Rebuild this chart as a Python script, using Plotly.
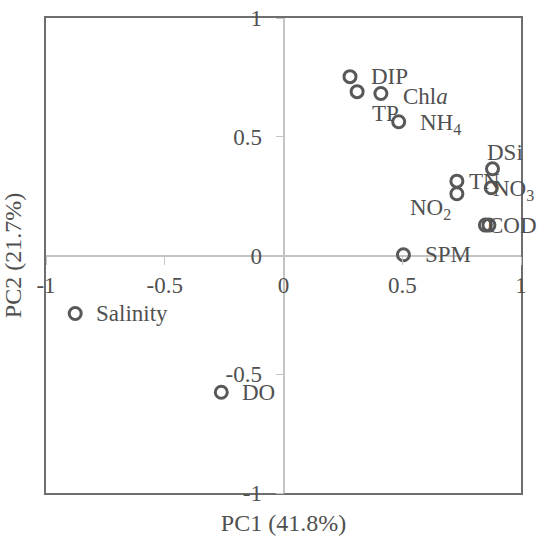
import plotly.graph_objects as go

# PCA loadings (PC1, PC2)
variables = ['DIP', 'TP', 'Chl<i>a</i>', 'NH<sub>4</sub>', 'DSi', 'TN', 'NO<sub>2</sub>',
             'NO<sub>3</sub>', '', 'COD', 'SPM', 'Salinity', 'DO']
pc1 = [0.28, 0.31, 0.41, 0.485, 0.88, 0.73, 0.73, 0.875, 0.85, 0.865, 0.505, -0.877, -0.262]
pc2 = [0.753, 0.69, 0.682, 0.563, 0.365, 0.313, 0.26, 0.285, 0.128, 0.128, 0.003, -0.244, -0.576]

tick_vals = [-1, -0.5, 0, 0.5, 1]
tick_text = ['-1', '-0.5', '0', '0.5', '1']

# label placement per variable: (xanchor, xshift px, yshift px)
label_place = {
    'DIP': ('left', 19, 0),
    'TP': ('left', 13, -22),
    'Chl<i>a</i>': ('left', 20, -3),
    'NH<sub>4</sub>': ('left', 19, -2),
    'DSi': ('left', -8, 16),
    'TN': ('left', 10, 0),
    'NO<sub>2</sub>': ('right', -4, -15),
    'NO<sub>3</sub>': ('left', 0, -2),
    'COD': ('left', -3, 0),
    'SPM': ('left', 20, 0),
    'Salinity': ('left', 19, 0),
    'DO': ('left', 19, 0),
}

FONT = 'Liberation Serif'
TXT = '#505050'

fig = go.Figure()
fig.add_trace(go.Scatter(
    x=pc1, y=pc2, mode='markers',
    marker=dict(symbol='circle-open', size=12, color='#585858', line=dict(width=3, color='#585858')),
    hoverinfo='skip', showlegend=False,
))
# invisible trace carrying the tick-label axes that sit on the zero lines
fig.add_trace(go.Scatter(x=[0], y=[0], xaxis='x2', yaxis='y2', mode='markers',
                         marker=dict(opacity=0), hoverinfo='skip', showlegend=False))

for name, x, y in zip(variables, pc1, pc2):
    if not name:
        continue
    anchor, dx, dy = label_place[name]
    fig.add_annotation(x=x, y=y, text=name, showarrow=False, xanchor=anchor, yanchor='middle',
                       xshift=dx, yshift=dy, font=dict(family=FONT, size=23, color=TXT))

frame = dict(range=[-1, 1], showline=True, mirror=True, linecolor='#6e6e6e', linewidth=2,
             zeroline=True, zerolinecolor='#c4c4c4', zerolinewidth=1.5, showgrid=False,
             showticklabels=False, ticks='', automargin=False)
tick_axis = dict(range=[-1, 1], anchor='free', position=0.5, showline=False, showgrid=False,
                 zeroline=False, tickvals=tick_vals, ticktext=tick_text, ticks='outside',
                 ticklen=8, tickcolor='#c4c4c4', automargin=False,
                 tickfont=dict(family=FONT, size=23, color=TXT))

fig.update_layout(
    width=541, height=550,
    margin=dict(l=46, r=20, t=18, b=57, autoexpand=False),
    plot_bgcolor='white', paper_bgcolor='white',
    xaxis=dict(frame, title=dict(text='PC1 (41.8%)', standoff=20,
                                 font=dict(family=FONT, size=24, color=TXT))),
    yaxis=dict(frame, title=dict(text='PC2 (21.7%)', standoff=16,
                                 font=dict(family=FONT, size=24, color=TXT))),
    xaxis2=dict(tick_axis, overlaying='x', side='bottom', ticklabelstandoff=1),
    yaxis2=dict(tick_axis, overlaying='y', side='left', ticklabelstandoff=9),
)

# drop the browser's default page margin so the figure sits at the window corner
fig.write_html('out.html', config={'displayModeBar': False},
               post_script="document.body.style.margin = '0px';")
